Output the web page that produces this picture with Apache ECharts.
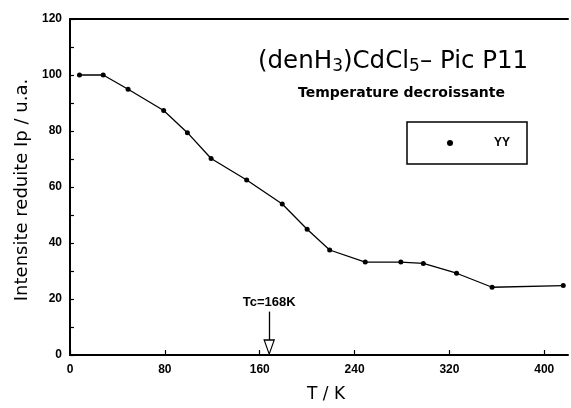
<!DOCTYPE html>
<html>
<head>
<meta charset="utf-8">
<script src="https://cdn.jsdelivr.net/npm/echarts@6/dist/echarts.min.js"></script>
<style>html,body{margin:0;padding:0;background:#fff}#c{width:571px;height:408px}</style>
</head>
<body>
<div id="c"></div>
<script>
const temperatures = [8, 28, 49, 79, 99, 119, 149, 179, 200, 219, 249, 279, 298, 326, 356, 416];
const intensities = [100, 100, 94.9, 87.3, 79.4, 70.2, 62.5, 53.9, 44.9, 37.5, 33.2, 33.2, 32.7, 29.2, 24.2, 24.8];
const seriesName = 'YY';
const tcValue = 168;
const tcLabel = 'Tc=168K';
const xTicks = [0, 80, 160, 240, 320, 400];
const yTicks = [0, 20, 40, 60, 80, 100, 120];

const points = temperatures.map((t, i) => [t, intensities[i]]);
const lab = {fontFamily: 'Liberation Sans', fontWeight: 'bold', fontSize: 12, color: '#000'};

const chart = echarts.init(document.getElementById('c'), null, {renderer: 'canvas'});
chart.setOption({
  animation: false,
  backgroundColor: '#fff',
  title: [{
    text: '(denH{s|3})CdCl{s|5}– Pic P11',
    left: 253, top: 43,
    textStyle: {fontFamily: 'DejaVu Sans', fontWeight: 'normal', fontSize: 24.5, color: '#000',
      rich: {s: {fontFamily: 'DejaVu Sans', fontSize: 17, padding: [10, 0, 0, 0], color: '#000'}}}
  }, {
    text: 'Temperature decroissante',
    left: 293, top: 81,
    textStyle: {fontFamily: 'DejaVu Sans', fontWeight: 'bold', fontSize: 14, color: '#000'}
  }],
  legend: {
    data: [seriesName],
    left: 407, top: 122,
    orient: 'horizontal',
    icon: 'circle', itemWidth: 6, itemHeight: 6,
    borderColor: '#000', borderWidth: 1.5, borderRadius: 0,
    padding: [15, 17, 15, 40],
    textStyle: Object.assign({}, lab, {padding: [0, 0, 0, 36]})
  },
  grid: {left: 70, right: 3, top: 19, bottom: 53, containLabel: false},
  xAxis: [{
    type: 'value', min: 0, max: 420, interval: 80,
    name: 'T / K', nameLocation: 'middle', nameGap: 31,
    nameTextStyle: {fontFamily: 'DejaVu Sans', fontSize: 17, color: '#000', padding: [0, 0, 0, 14]},
    axisLine: {show: true, onZero: false, lineStyle: {color: '#000', width: 2}},
    axisTick: {show: true, inside: true, length: 5, lineStyle: {color: '#000', width: 1.2}},
    axisLabel: Object.assign({}, lab, {margin: 9, showMaxLabel: false,
      formatter: v => xTicks.includes(v) ? String(v) : ''}),
    splitLine: {show: false}
  }, {
    type: 'value', min: 0, max: 420, position: 'top',
    axisLine: {show: true, onZero: false, lineStyle: {color: '#000', width: 2}},
    axisTick: {show: false}, axisLabel: {show: false}, splitLine: {show: false}
  }],
  yAxis: {
    type: 'value', min: 0, max: 120, interval: 10,
    name: 'Intensite reduite Ip / u.a.', nameLocation: 'middle', nameGap: 32,
    nameTextStyle: {fontFamily: 'DejaVu Sans', fontSize: 18, color: '#000', padding: [0, 6, 0, 0]},
    axisLine: {show: true, onZero: false, lineStyle: {color: '#000', width: 2}},
    axisTick: {show: true, inside: true, length: 4, lineStyle: {color: '#000', width: 1.2}},
    axisLabel: Object.assign({}, lab, {margin: 8,
      formatter: v => yTicks.includes(v) ? String(v) : ''}),
    splitLine: {show: false}
  },
  series: [{
    name: seriesName,
    type: 'line',
    data: points,
    symbol: 'circle', symbolSize: 5,
    itemStyle: {color: '#000'},
    lineStyle: {color: '#000', width: 1.3},
    markLine: {
      silent: true, symbol: ['none', 'none'],
      lineStyle: {color: '#000', width: 1.3, type: 'solid'},
      label: {show: true, position: 'start', distance: 3, formatter: tcLabel,
        fontFamily: 'Liberation Sans', fontWeight: 'bold', fontSize: 13, color: '#000'},
      data: [[{coord: [tcValue, 15.5]}, {coord: [tcValue, 4.5]}]]
    },
    markPoint: {
      silent: true,
      data: [{coord: [tcValue, 0], symbol: 'path://M0,0L10,0L5,14Z', symbolSize: [10, 14], symbolOffset: [0, -8],
        itemStyle: {color: '#fff', borderColor: '#000', borderWidth: 1.3}, label: {show: false}}]
    }
  }]
});
</script>
</body>
</html>
